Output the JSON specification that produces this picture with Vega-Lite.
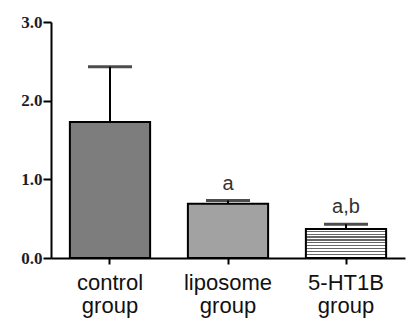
{
  "$schema": "https://vega.github.io/schema/vega-lite/v6.json",
  "width": 354,
  "height": 236,
  "autosize": {"type": "none"},
  "padding": {"left": 51, "top": 22, "right": 9, "bottom": 62},
  "background": "white",
  "data": {"values": [
    {"group": "control group", "value": 1.73, "err": 2.43, "sig": ""},
    {"group": "liposome group", "value": 0.69, "err": 0.73, "sig": "a"},
    {"group": "5-HT1B group", "value": 0.37, "err": 0.43, "sig": "a,b"}
  ]},
  "encoding": {
    "x": {
      "field": "group", "type": "nominal", "sort": null,
      "scale": {"paddingInner": 0.32, "paddingOuter": 0.16},
      "axis": {
        "title": null, "labelAngle": 0, "labelExpr": "split(datum.label, ' ')",
        "labelFont": "Liberation Sans", "labelFontSize": 22, "labelColor": "#111",
        "labelLineHeight": 23, "labelPadding": 8, "labelBaseline": "top",
        "domainColor": "black", "domainWidth": 2, "tickColor": "black", "tickWidth": 2, "tickSize": 6
      }
    },
    "y": {
      "field": "value", "type": "quantitative",
      "scale": {"domain": [0, 3], "nice": false},
      "axis": {
        "title": null, "values": [0, 1, 2, 3], "format": ".1f", "grid": false,
        "labelFont": "Liberation Serif", "labelFontWeight": "bold", "labelFontSize": 17, "labelColor": "#1c1c2a",
        "labelPadding": 1, "tickSize": 8, "tickWidth": 2, "tickColor": "black",
        "domainColor": "black", "domainWidth": 2
      }
    }
  },
  "layer": [
    {
      "mark": {"type": "bar", "stroke": "black", "strokeWidth": 2},
      "encoding": {
        "fill": {
          "condition": [
            {"test": "datum.group === 'control group'", "value": "#7d7d7d"},
            {"test": "datum.group === 'liposome group'", "value": "#a2a2a2"}
          ],
          "value": {
            "gradient": "linear", "x1": 0, "y1": 0, "x2": 0, "y2": 1,
            "stops": [
              {"offset": 0.0, "color": "#ffffff"}, {"offset": 0.06, "color": "#ffffff"}, {"offset": 0.06, "color": "#666666"}, {"offset": 0.1, "color": "#666666"},
              {"offset": 0.1, "color": "#ffffff"}, {"offset": 0.16, "color": "#ffffff"}, {"offset": 0.16, "color": "#666666"}, {"offset": 0.2, "color": "#666666"},
              {"offset": 0.2, "color": "#ffffff"}, {"offset": 0.26, "color": "#ffffff"}, {"offset": 0.26, "color": "#666666"}, {"offset": 0.3, "color": "#666666"},
              {"offset": 0.3, "color": "#ffffff"}, {"offset": 0.36, "color": "#ffffff"}, {"offset": 0.36, "color": "#666666"}, {"offset": 0.4, "color": "#666666"},
              {"offset": 0.4, "color": "#ffffff"}, {"offset": 0.46, "color": "#ffffff"}, {"offset": 0.46, "color": "#666666"}, {"offset": 0.5, "color": "#666666"},
              {"offset": 0.5, "color": "#ffffff"}, {"offset": 0.56, "color": "#ffffff"}, {"offset": 0.56, "color": "#666666"}, {"offset": 0.6, "color": "#666666"},
              {"offset": 0.6, "color": "#ffffff"}, {"offset": 0.66, "color": "#ffffff"}, {"offset": 0.66, "color": "#666666"}, {"offset": 0.7, "color": "#666666"},
              {"offset": 0.7, "color": "#ffffff"}, {"offset": 0.76, "color": "#ffffff"}, {"offset": 0.76, "color": "#666666"}, {"offset": 0.8, "color": "#666666"},
              {"offset": 0.8, "color": "#ffffff"}, {"offset": 0.86, "color": "#ffffff"}, {"offset": 0.86, "color": "#666666"}, {"offset": 0.9, "color": "#666666"},
              {"offset": 0.9, "color": "#ffffff"}, {"offset": 0.96, "color": "#ffffff"}, {"offset": 0.96, "color": "#666666"}, {"offset": 1.0, "color": "#666666"}
            ]
          }
        }
      }
    },
    {
      "mark": {"type": "rule", "color": "black", "strokeWidth": 2},
      "encoding": {
        "y2": {"field": "err"}
      }
    },
    {
      "mark": {"type": "tick", "color": "black", "thickness": 3, "size": 44},
      "encoding": {
        "y": {"field": "err", "type": "quantitative"}
      }
    },
    {
      "mark": {"type": "text", "font": "Liberation Sans", "fontSize": 20, "color": "#333", "dy": -11, "baseline": "alphabetic"},
      "encoding": {
        "y": {"field": "err", "type": "quantitative"},
        "text": {"field": "sig"}
      }
    }
  ],
  "config": {"view": {"stroke": null}}
}
